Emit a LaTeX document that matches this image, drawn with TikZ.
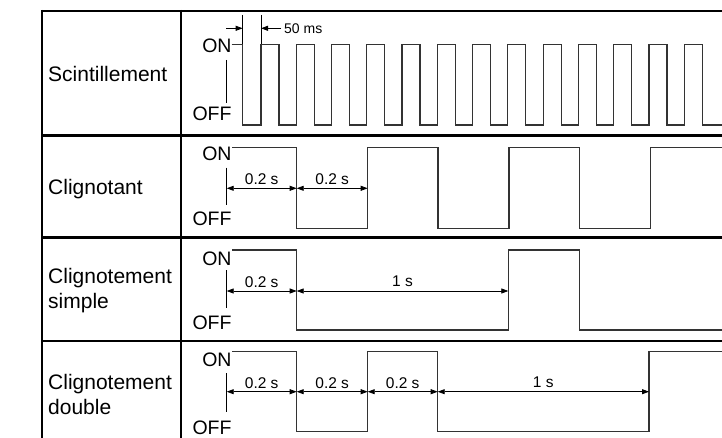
\documentclass[tikz,border=0pt]{standalone}
\usepackage{fontspec}
\setmainfont{Liberation Sans}
\usetikzlibrary{arrows.meta}
\begin{document}
\begin{tikzpicture}[x=1pt,y=-1pt,
  grid/.style={line width=2.2pt,black},
  vgrid/.style={line width=1.8pt,black},
  wave/.style={line width=1.2pt,black!80,line join=miter},
  tick/.style={line width=0.9pt,black},
  dim/.style={line width=0.8pt,black,{Triangle[length=7pt,width=5pt]}-{Triangle[length=7pt,width=5pt]}},
  dimr/.style={line width=0.8pt,black,-{Triangle[length=7pt,width=5pt]}},
  rowlab/.style={anchor=west,align=left,inner sep=0pt,font=\fontsize{21}{25}\selectfont},
  lvl/.style={anchor=east,inner sep=0pt,font=\fontsize{19.5}{22}\selectfont},
  dlab/.style={inner sep=0pt,font=\fontsize{15.5}{18}\selectfont}]
\useasboundingbox (0,0) rectangle (722,438);
% table
\draw[grid] (42,11) -- (722,11);
\draw[grid] (42,135.5) -- (722,135.5);
\draw[grid] (42,237.5) -- (722,237.5);
\draw[grid] (42,341) -- (722,341);
\draw[vgrid] (42,10) -- (42,438);
\draw[vgrid] (181,10) -- (181,438);
% row labels
\node[rowlab] (r1) at (48,74) {Scintillement};
\node[rowlab] (r2) at (48,189) {Clignotant};
\node[rowlab] (r3) at (48,290.5) {Clignotement\\simple};
\node[rowlab] (r4) at (48,394) {Clignotement\\double};
% ON / OFF labels
\node[lvl] (on1) at (231.7,46) {ON};
\node[lvl] (off1) at (231.7,114) {OFF};
\node[lvl] (on2) at (231.7,153.7) {ON};
\node[lvl] (off2) at (231.7,219) {OFF};
\node[lvl] (on3) at (231.7,259) {ON};
\node[lvl] (off3) at (231.7,323) {OFF};
\node[lvl] (on4) at (231.7,360) {ON};
\node[lvl] (off4) at (231.7,428) {OFF};
% axis ticks
\draw[tick] (226.7,60) -- (226.7,103);
\draw[tick] (226.7,167.7) -- (226.7,205);
\draw[tick] (226.7,270) -- (226.7,308);
\draw[tick] (226.7,373) -- (226.7,411.7);
% row 1 waveform
\draw[wave] (231.7,44.5) -- (242.7,44.5) -- (242.7,125)
  \foreach \k in {0,...,12} { -- ({261+35.27*\k},125) -- ({261+35.27*\k},44.5) -- ({279+35.27*\k},44.5) -- ({279+35.27*\k},125) }
  -- (722,125);
\draw[tick] (242.7,15) -- (242.7,44);
\draw[tick] (261,15) -- (261,44);
\draw[dimr] (226,28.3) -- (242.7,28.3);
\draw[dimr] (281,28.3) -- (261,28.3);
\node[dlab,anchor=west,font=\fontsize{14}{17}\selectfont] (d50) at (284,28.3) {50 ms};
% row 2 waveform
\draw[wave] (232,147.7) -- (296.7,147.7) -- (296.7,228.3) -- (367.7,228.3) -- (367.7,147.7) -- (438,147.7) -- (438,228.3) -- (509,228.3) -- (509,147.7) -- (579.7,147.7) -- (579.7,228.3) -- (650.3,228.3) -- (650.3,147.7) -- (722,147.7);
\draw[dim] (226.7,188.3) -- (296.7,188.3);
\draw[dim] (296.7,188.3) -- (367.7,188.3);
\node[dlab] (l21) at (261.7,179.3) {0.2 s};
\node[dlab] (l22) at (332.2,179.3) {0.2 s};
% row 3 waveform
\draw[wave] (232,250) -- (296.7,250) -- (296.7,330) -- (508.3,330) -- (508.3,250) -- (579.5,250) -- (579.5,330) -- (722,330);
\draw[dim] (226.7,291) -- (296.7,291);
\draw[dim] (296.7,291) -- (508.3,291);
\node[dlab] (l31) at (261.7,281.7) {0.2 s};
\node[dlab] (l32) at (402.5,281.7) {1 s};
% row 4 waveform
\draw[wave] (232,351.7) -- (296.7,351.7) -- (296.7,431.7) -- (367.7,431.7) -- (367.7,351.7) -- (437.7,351.7) -- (437.7,431.7) -- (649,431.7) -- (649,351.7) -- (722,351.7);
\draw[dim] (226.7,391.7) -- (296.7,391.7);
\draw[dim] (296.7,391.7) -- (367.7,391.7);
\draw[dim] (367.7,391.7) -- (437.7,391.7);
\draw[dim] (437.7,391.7) -- (649,391.7);
\node[dlab] (l41) at (261.7,382.7) {0.2 s};
\node[dlab] (l42) at (332.2,382.7) {0.2 s};
\node[dlab] (l43) at (402.7,382.7) {0.2 s};
\node[dlab] (l44) at (543.3,382.7) {1 s};
\end{tikzpicture}
\end{document}
